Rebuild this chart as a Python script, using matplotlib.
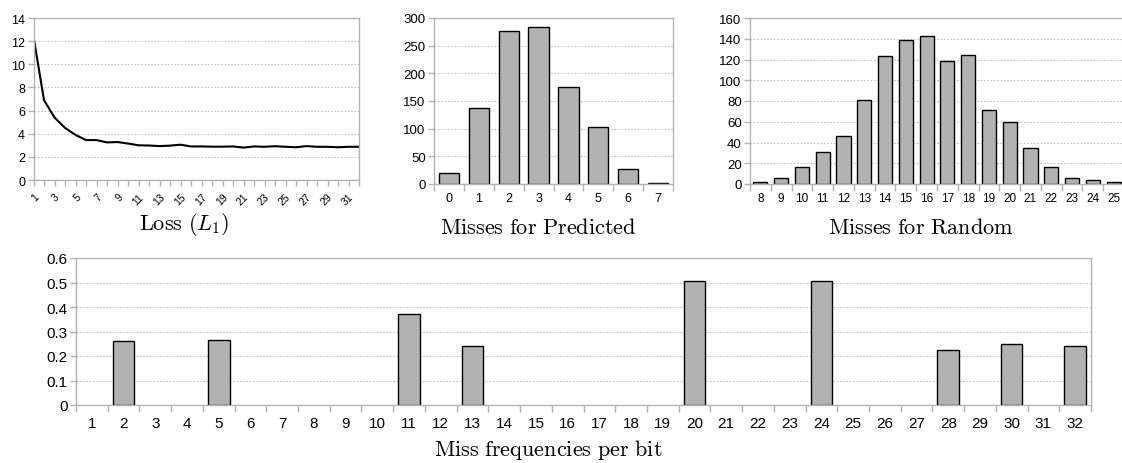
import numpy as np
import matplotlib
matplotlib.use('Agg')
import matplotlib.pyplot as plt

# loss curve per epoch
epochs = list(range(1, 33))
loss = [12.4, 6.9, 5.4, 4.5, 3.9, 3.45, 3.45, 3.25, 3.28, 3.15,
        3.0, 2.98, 2.93, 2.97, 3.05, 2.9, 2.9, 2.88, 2.88, 2.9,
        2.8, 2.9, 2.87, 2.92, 2.87, 2.83, 2.93, 2.87, 2.87, 2.83,
        2.87, 2.87]

# miss histograms
pred_misses = [0, 1, 2, 3, 4, 5, 6, 7]
pred_counts = [19, 137, 277, 283, 176, 103, 27, 2]

rand_misses = list(range(8, 26))
rand_counts = [2, 6, 16, 31, 46, 81, 123, 139, 143, 119, 124, 71, 60, 35,
               16, 6, 4, 2]

# miss frequency per bit
bits = list(range(1, 33))
bit_freq = [0, 0.263, 0, 0, 0.265, 0, 0, 0, 0, 0,
            0.372, 0, 0.241, 0, 0, 0, 0, 0, 0, 0.505,
            0, 0, 0, 0.507, 0, 0, 0, 0.224, 0, 0.247,
            0, 0.241]

W, H = 1122, 464
SPINE = '#b3b3b3'
BAR = '#b2b2b2'

plt.rcParams['font.family'] = ['Liberation Sans', 'DejaVu Sans']
plt.rcParams['mathtext.fontset'] = 'cm'

fig = plt.figure(figsize=(W / 100, H / 100), dpi=100)


def box(l, r, t, b):
    return [l / W, (H - b) / H, (r - l) / W, (b - t) / H]


def style(ax, fs):
    for s in ax.spines.values():
        s.set_color(SPINE)
        s.set_linewidth(1.0)
    ax.yaxis.grid(True, color='#c4c4c4', linestyle=(0, (1.5, 1.5)), lw=0.8)
    ax.set_axisbelow(True)
    ax.tick_params(axis='y', colors=SPINE, labelcolor='black',
                   labelsize=fs, length=4, width=1, pad=2)


def bars(ax, cats, vals, fs, pad=6):
    x = np.arange(len(cats))
    v = np.array(vals, dtype=float)
    keep = v > 0  # empty categories get no bar outline
    ax.bar(x[keep], v[keep], width=0.68, color=BAR, edgecolor='black', lw=1.0)
    ax.set_xlim(-0.5, len(cats) - 0.5)
    ax.set_xticks(x)
    ax.set_xticklabels([str(c) for c in cats])
    ax.set_xticks(np.arange(len(cats) + 1) - 0.5, minor=True)
    ax.tick_params(axis='x', which='major', length=0, labelsize=fs, pad=pad)
    ax.tick_params(axis='x', which='minor', length=5, width=1, colors=SPINE)


# loss
ax1 = fig.add_axes(box(33.5, 359, 19, 181))
ax1.plot(epochs, loss, color='black', lw=1.5)
ax1.set_xlim(1, 32)
ax1.set_ylim(0, 14)
ax1.set_yticks(np.arange(0, 15, 2))
ax1.set_xticks(epochs)
ax1.set_xticklabels([str(e) if e % 2 == 1 else '' for e in epochs],
                    rotation=45, ha='right', rotation_mode='anchor')
style(ax1, 9)
ax1.tick_params(axis='x', colors=SPINE, labelcolor='black', labelsize=7.5,
                length=4, width=1, pad=4)

# predicted
ax2 = fig.add_axes(box(434, 673, 19, 185))
bars(ax2, pred_misses, pred_counts, 9)
ax2.set_ylim(0, 300)
ax2.set_yticks(np.arange(0, 301, 50))
style(ax2, 9.5)

# random
ax3 = fig.add_axes(box(750, 1124, 19, 185))
bars(ax3, rand_misses, rand_counts, 8.5)
ax3.set_ylim(0, 160)
ax3.set_yticks(np.arange(0, 161, 20))
style(ax3, 9.5)

# per bit
ax4 = fig.add_axes(box(76, 1091, 259, 406))
bars(ax4, bits, bit_freq, 11, pad=8)
ax4.set_ylim(0, 0.6)
ax4.set_yticks(np.arange(0, 0.61, 0.1))
ax4.set_yticklabels(['0', '0.1', '0.2', '0.3', '0.4', '0.5', '0.6'])
style(ax4, 11)

fs = 16
fig.text(184 / W, 1 - 225 / H, r'$\mathrm{Loss}\ (L_1)$', ha='center', va='center', fontsize=fs)
fig.text(538 / W, 1 - 229 / H, r'$\mathrm{Misses\ for\ Predicted}$', ha='center', va='center', fontsize=fs)
fig.text(921 / W, 1 - 229 / H, r'$\mathrm{Misses\ for\ Random}$', ha='center', va='center', fontsize=fs)
fig.text(548 / W, 1 - 450 / H, r'$\mathrm{Miss\ frequencies\ per\ bit}$', ha='center', va='center', fontsize=fs)

fig.savefig('out.png', dpi=100)
